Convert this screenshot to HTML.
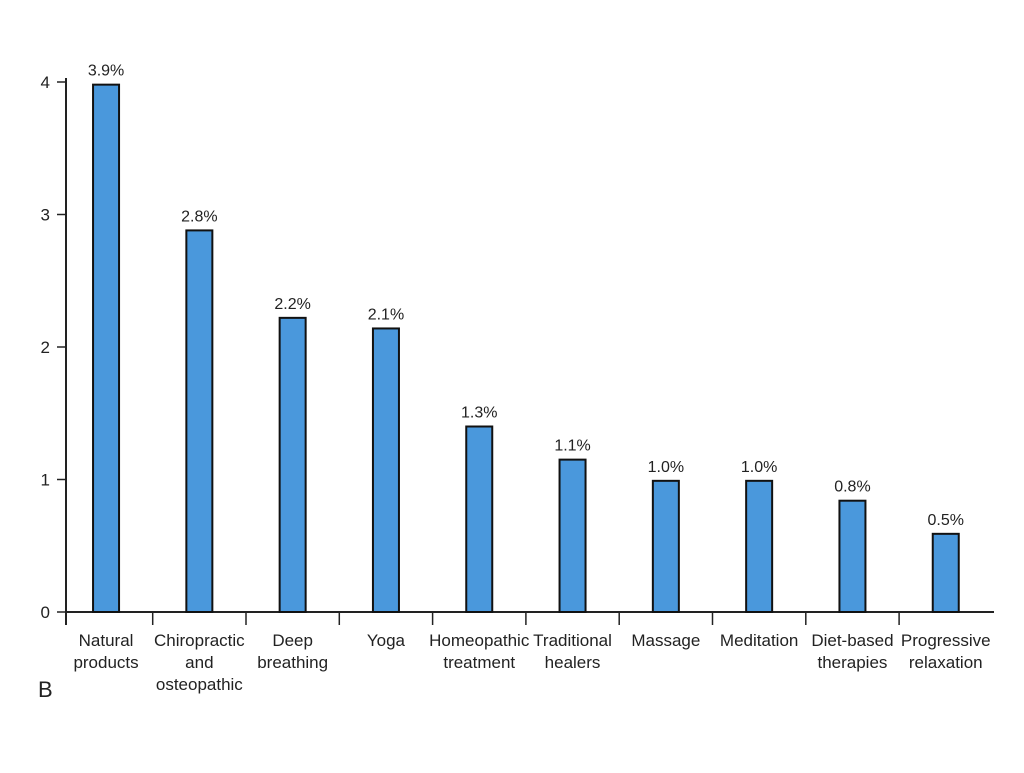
<!DOCTYPE html>
<html><head><meta charset="utf-8"><style>
body{margin:0;background:#fff;}
text{font-family:"Liberation Sans Narrow","Liberation Sans",sans-serif;fill:#222;}
</style></head><body>
<svg id="chart" width="1024" height="768" xmlns="http://www.w3.org/2000/svg"></svg>
<script>
const categories=[["Natural","products"],["Chiropractic","and","osteopathic"],["Deep","breathing"],["Yoga"],["Homeopathic","treatment"],["Traditional","healers"],["Massage"],["Meditation"],["Diet-based","therapies"],["Progressive","relaxation"]];
const values=[3.98,2.88,2.22,2.14,1.40,1.15,0.99,0.99,0.84,0.59];
const valueLabels=["3.9%","2.8%","2.2%","2.1%","1.3%","1.1%","1.0%","1.0%","0.8%","0.5%"];
const yTicks=[0,1,2,3,4];
const svg=document.getElementById('chart');
const NS='http://www.w3.org/2000/svg';
const y0=612,unit=132.5,xStart=59.4,band=93.3,barW=26;
const yS=v=>y0-v*unit;
const xC=i=>xStart+band*(i+0.5);
function mk(tag,attrs,parent){const e=document.createElementNS(NS,tag);for(const k in attrs)e.setAttribute(k,attrs[k]);(parent||svg).appendChild(e);return e;}
// axes
let ax=mk('line',{x1:66,y1:78,x2:66,y2:625,stroke:'#222','stroke-width':2});


let bx=mk('line',{x1:66,y1:612,x2:994,y2:612,stroke:'#222','stroke-width':2});


yTicks.forEach(t=>{
  let l=mk('line',{x1:57,y1:yS(t),x2:66,y2:yS(t),stroke:'#222','stroke-width':1.5});
  
  
  let tx=mk('text',{x:50,y:yS(t)+6,'text-anchor':'end','font-size':17});
  tx.textContent=t;
  
  
});
for(let i=1;i<categories.length;i++){
  let x=xStart+band*i;
  let l=mk('line',{x1:x,y1:612,x2:x,y2:625,stroke:'#222','stroke-width':1.5});
  
  
}
values.forEach((v,i)=>{
  let r=mk('rect',{x:xC(i)-barW/2,y:yS(v),width:barW,height:y0-yS(v),fill:'#4a98dc',stroke:'#111','stroke-width':2});
  
  
  let t=mk('text',{x:xC(i),y:yS(v)-9,'text-anchor':'middle','font-size':16});
  t.textContent=valueLabels[i];
  
  
  let lines=categories[i];
  let ct=mk('text',{x:xC(i),'text-anchor':'middle','font-size':17});
  
  
  lines.forEach((s,j)=>{let ts=mk('tspan',{x:xC(i),y:646+j*22},ct);ts.textContent=s;});
});
let b=mk('text',{x:38,y:697,'font-size':22});
b.textContent='B';


</script>
</body></html>
